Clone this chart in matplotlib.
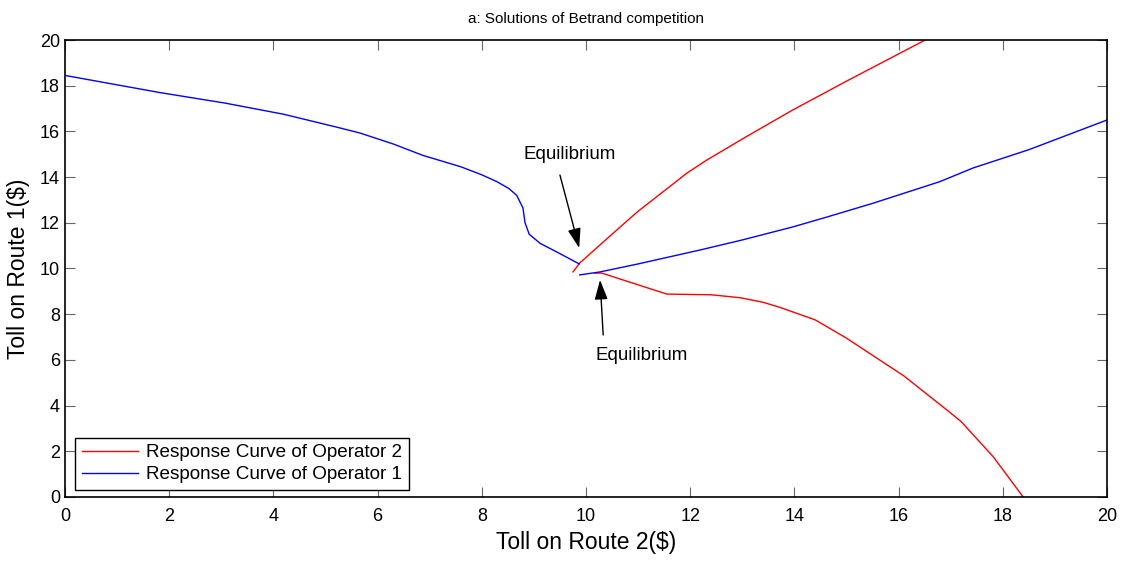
import matplotlib

matplotlib.use("Agg")
import matplotlib.pyplot as plt

plt.rcParams["font.family"] = ["Liberation Sans", "DejaVu Sans"]

# Response curve of operator 1, left branch (toll 2 -> toll 1)
op1_left_x = [0.0, 1.82, 3.07, 4.2, 5.28, 5.66, 6.3, 6.87, 7.6, 8.0, 8.29, 8.52, 8.67, 8.79, 8.83, 8.91, 9.12, 9.5, 9.87]
op1_left_y = [18.45, 17.7, 17.24, 16.75, 16.15, 15.93, 15.45, 14.95, 14.45, 14.1, 13.8, 13.5, 13.2, 12.65, 12.0, 11.5, 11.1, 10.65, 10.2]

# Response curve of operator 1, right branch
op1_right_x = [9.88, 10.27, 11.0, 12.19, 13.0, 13.97, 14.62, 15.5, 16.79, 17.43, 18.5, 20.0]
op1_right_y = [9.72, 9.85, 10.2, 10.81, 11.25, 11.82, 12.25, 12.85, 13.8, 14.4, 15.2, 16.5]

# Response curve of operator 2, upper branch
op2_up_x = [9.75, 9.88, 10.4, 10.98, 11.94, 12.32, 13.1, 13.97, 15.0, 16.51]
op2_up_y = [9.85, 10.24, 11.3, 12.47, 14.18, 14.75, 15.8, 16.94, 18.2, 20.0]

# Response curve of operator 2, lower branch
op2_low_x = [10.17, 10.3, 11.55, 12.4, 12.96, 13.4, 13.72, 14.4, 15.0, 16.1, 16.93, 17.2, 17.82, 18.39]
op2_low_y = [9.8, 9.8, 8.88, 8.85, 8.72, 8.52, 8.3, 7.75, 6.95, 5.3, 3.8, 3.3, 1.75, 0.0]

ticks = list(range(0, 21, 2))

fig = plt.figure(figsize=(11.28, 5.62), dpi=100)
ax = fig.add_axes([0.0576, 0.1157, 0.9238, 0.8131])

ax.plot(op2_up_x, op2_up_y, color="#ff0000", linewidth=1.0, label="Response Curve of Operator 2")
ax.plot(op1_left_x, op1_left_y, color="#0000ff", linewidth=1.0, label="Response Curve of Operator 1")
ax.plot(op2_low_x, op2_low_y, color="#ff0000", linewidth=1.0)
ax.plot(op1_right_x, op1_right_y, color="#0000ff", linewidth=1.0)

arrow = dict(arrowstyle="-|>,head_length=1.2,head_width=0.4", color="black", linewidth=1.0,
             shrinkA=0, shrinkB=0)
ax.annotate("", xy=(9.87, 10.9), xytext=(9.5, 14.09), arrowprops=arrow)
ax.annotate("", xy=(10.27, 9.5), xytext=(10.33, 7.09), arrowprops=arrow)
ax.text(9.69, 15.0, "Equilibrium", ha="center", va="center", fontsize=13.5)
ax.text(11.07, 6.21, "Equilibrium", ha="center", va="center", fontsize=13.5)

ax.set_xlim(0, 20)
ax.set_ylim(0, 20)
ax.set_xticks(ticks)
ax.set_yticks(ticks)
ax.tick_params(direction="in", length=7, width=0.8, color="#666666", top=True, right=True,
               labelsize=13)
ax.tick_params(axis="x", pad=8)
ax.tick_params(axis="y", pad=3.5)
for spine in ax.spines.values():
    spine.set_linewidth(1.2)

ax.set_xlabel("Toll on Route 2($)", fontsize=16.5, labelpad=4)
ax.set_ylabel("Toll on Route 1($)", fontsize=16.5, labelpad=7)
ax.set_title("a: Solutions of Betrand competition", fontsize=11, pad=12)

leg = ax.legend(loc="lower left", bbox_to_anchor=(0.0096, 0.0153), fontsize=13.6,
                fancybox=False, edgecolor="black", framealpha=1, borderaxespad=0,
                handlelength=3.0, handletextpad=0.4, borderpad=0.35, labelspacing=0.25)
leg.get_frame().set_linewidth(1.0)

fig.savefig("out.png", dpi=100)
